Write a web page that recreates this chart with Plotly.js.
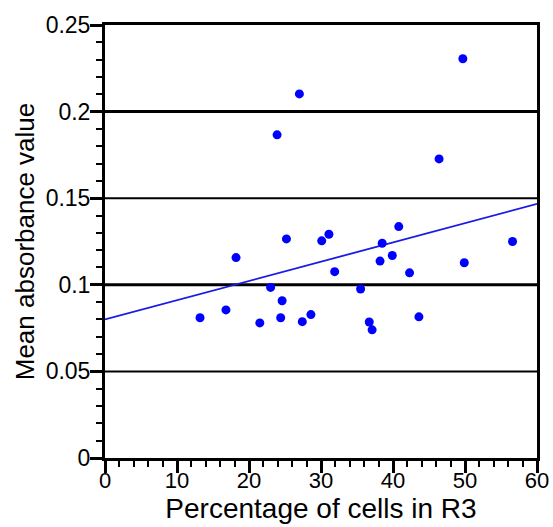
<!DOCTYPE html>
<html><head><meta charset="utf-8">
<script src="https://cdn.plot.ly/plotly-3.0.1.min.js"></script>
<style>html,body{margin:0;padding:0;background:#fff}#chart{width:553px;height:527px}</style>
</head><body><div id="chart"></div>
<script>
const cellPct = [13.2, 16.8, 18.2, 21.5, 23.0, 23.9, 24.4, 24.6, 25.2, 27.0, 27.4, 28.6, 30.1, 31.1, 31.9, 35.5, 36.7, 37.1, 38.2, 38.5, 39.9, 40.8, 42.3, 43.6, 46.4, 49.7, 49.9, 56.6];
const absorbance = [0.081, 0.0855, 0.1157, 0.078, 0.0985, 0.1866, 0.081, 0.0908, 0.1265, 0.2102, 0.0787, 0.0828, 0.1254, 0.1292, 0.1076, 0.0976, 0.0785, 0.074, 0.1137, 0.124, 0.1169, 0.1336, 0.1069, 0.0815, 0.1727, 0.2305, 0.1127, 0.125];
const fitX = [0, 60];
const fitY = [0.0800, 0.1467];
const xTickVals = [0, 10, 20, 30, 40, 50, 60];
const xTickText = ['0', '10', '20', '30', '40', '50', '60'];
const yTickVals = [0, 0.05, 0.1, 0.15, 0.2, 0.25];
const yTickText = ['0', '0.05', '0.1', '0.15', '0.2', '0.25'];
const gridBold = [0.1, 0.2];
const gridThin = [0.05, 0.15];

const shapes = [];
gridBold.forEach(v => shapes.push({type:'line', xref:'paper', yref:'y', x0:0, x1:1, y0:v, y1:v, line:{color:'#000', width:3}, layer:'below'}));
gridThin.forEach(v => shapes.push({type:'line', xref:'paper', yref:'y', x0:0, x1:1, y0:v, y1:v, line:{color:'#000', width:2}, layer:'below'}));

const traces = [
  {x: fitX, y: fitY, type:'scatter', mode:'lines', line:{color:'#1a1ae6', width:1.8}, hoverinfo:'skip', showlegend:false},
  {x: cellPct, y: absorbance, type:'scatter', mode:'markers', marker:{color:'#0000ff', size:9}, showlegend:false}
];

const fam = '"Liberation Sans", Arial, sans-serif';
const layout = {
  width:553, height:527,
  margin:{l:105, r:16, t:25, b:69},
  paper_bgcolor:'#fff', plot_bgcolor:'#fff',
  font:{family:fam, color:'#000'},
  showlegend:false,
  shapes: shapes,
  xaxis:{
    range:[0,60], tickvals:xTickVals, ticktext:xTickText,
    showgrid:false, zeroline:false,
    showline:true, linecolor:'#000', linewidth:3, mirror:true,
    ticks:'outside', ticklen:12, tickwidth:3, tickcolor:'#000',
    minor:{dtick:2, ticks:'outside', ticklen:6, tickwidth:2, tickcolor:'#000', showgrid:false},
    tickfont:{size:22, family:fam, color:'#000'},
    ticklabelstandoff:-11,
    title:{text:'\u00a0Percentage of cells in R3', font:{size:28, family:fam, color:'#000'}, standoff:2},
    fixedrange:true
  },
  yaxis:{
    range:[0,0.25], tickvals:yTickVals, ticktext:yTickText,
    showgrid:false, zeroline:false,
    showline:true, linecolor:'#000', linewidth:3, mirror:true,
    ticks:'outside', ticklen:12, tickwidth:3, tickcolor:'#000',
    minor:{dtick:0.01, ticks:'outside', ticklen:6, tickwidth:2, tickcolor:'#000', showgrid:false},
    tickfont:{size:23, family:fam, color:'#000'},
    ticklabelstandoff:-5,
    title:{text:'\u00a0\u00a0\u00a0Mean absorbance value', font:{size:26, family:fam, color:'#000'}, standoff:4},
    fixedrange:true
  }
};

Plotly.newPlot('chart', traces, layout, {displayModeBar:false, staticPlot:true});
</script>
</body></html>
